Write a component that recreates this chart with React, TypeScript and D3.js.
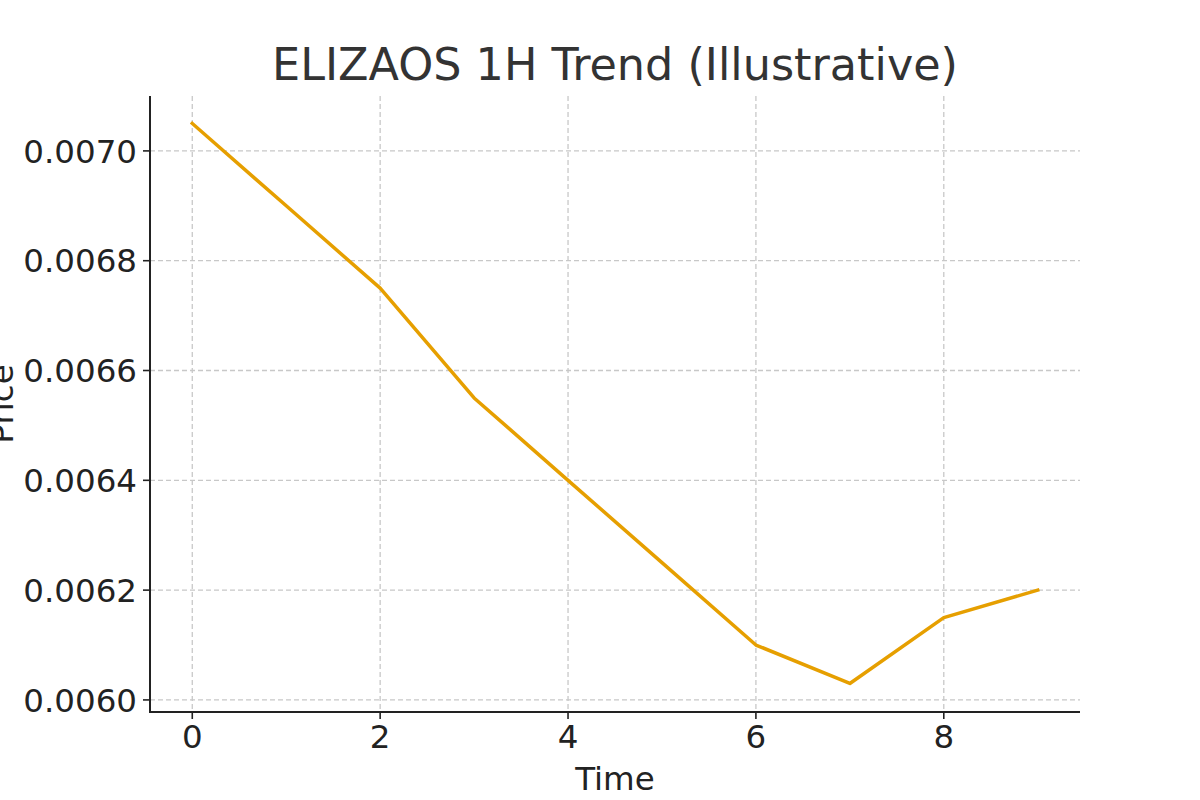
import React from "react";
import * as d3 from "d3";

const times = [0, 1, 2, 3, 4, 5, 6, 7, 8, 9];
const prices = [0.00705, 0.0069, 0.00675, 0.00655, 0.0064, 0.00625, 0.0061, 0.00603, 0.00615, 0.0062];
const xTicks = [0, 2, 4, 6, 8];
const yTicks = [0.006, 0.0062, 0.0064, 0.0066, 0.0068, 0.007];
const title = "ELIZAOS 1H Trend (Illustrative)";
const xLabel = "Time";
const yLabel = "Price";

export default function App() {
  const W = 1200, H = 800;
  const left = 150, right = 1080, top = 96, bottom = 712;
  const x = d3.scaleLinear().domain([-0.45, 9.45]).range([left, right]);
  const y = d3.scaleLinear().domain([0.005978, 0.0071]).range([bottom, top]);
  const line = d3.line<number>().x((_, i) => x(times[i])).y((d) => y(d));
  const font = "DejaVu Sans, sans-serif";
  const fs = 32.5;
  return (
    <svg width={W} height={H} style={{ position: "absolute", left: 0, top: 0, background: "#fff" }} fontFamily={font}>
      <rect width={W} height={H} fill="#fff" />
      {xTicks.map((t) => (
        <line key={"gx" + t} x1={x(t)} x2={x(t)} y1={top} y2={bottom} stroke="#c8c8c8" strokeWidth={1.3} strokeDasharray="5,3" />
      ))}
      {yTicks.map((t) => (
        <line key={"gy" + t} x1={left} x2={right} y1={y(t)} y2={y(t)} stroke="#c8c8c8" strokeWidth={1.3} strokeDasharray="5,3" />
      ))}
      <path d={line(prices) || ""} fill="none" stroke="#E69F00" strokeWidth={3.5} strokeLinejoin="round" strokeLinecap="square" />
      <line x1={left} x2={left} y1={top} y2={bottom + 1} stroke="#222" strokeWidth={2} />
      <line x1={left - 1} x2={right} y1={bottom} y2={bottom} stroke="#222" strokeWidth={2} />
      {xTicks.map((t) => (
        <g key={"tx" + t}>
          <line x1={x(t)} x2={x(t)} y1={bottom} y2={bottom + 7} stroke="#222" strokeWidth={1.6} />
          <text x={x(t)} y={bottom + 36} textAnchor="middle" fontSize={fs} fill="#222">{t}</text>
        </g>
      ))}
      {yTicks.map((t) => (
        <g key={"ty" + t}>
          <line x1={left - 7} x2={left} y1={y(t)} y2={y(t)} stroke="#222" strokeWidth={1.6} />
          <text x={left - 13} y={y(t)} dy="0.36em" textAnchor="end" fontSize={fs} fill="#222">{t.toFixed(4)}</text>
        </g>
      ))}
      <text x={(left + right) / 2} y={790} textAnchor="middle" fontSize={fs} fill="#222">{xLabel}</text>
      <text transform={`translate(13, ${(top + bottom) / 2}) rotate(-90)`} textAnchor="middle" fontSize={fs} fill="#222">{yLabel}</text>
      <text x={(left + right) / 2} y={80} textAnchor="middle" fontSize={44.5} fill="#333">{title}</text>
    </svg>
  );
}
